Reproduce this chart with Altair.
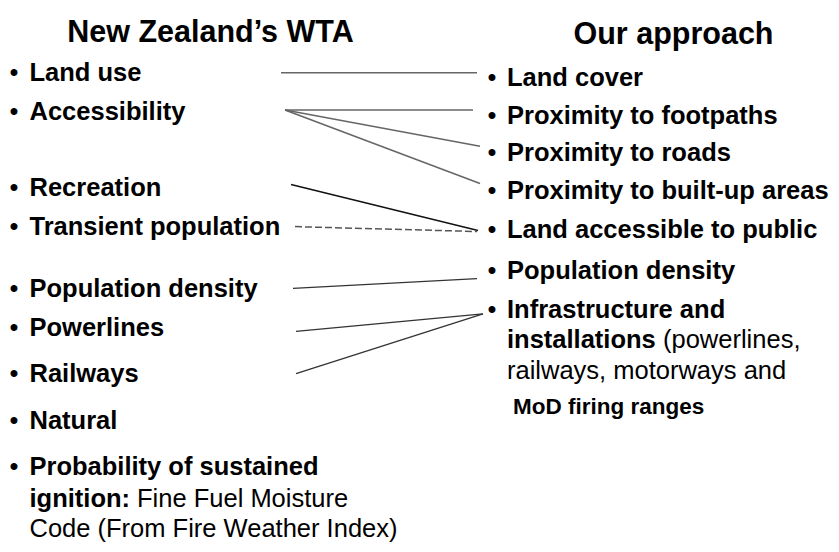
import altair as alt
import pandas as pd

FONT = "Liberation Sans"

# ---- text content ----
titles = ["New Zealand’s WTA", "Our approach"]
title_x = [210.5, 673.5]
title_y = [42, 45]

left_items = ["Land use", "Accessibility", "Recreation", "Transient population",
              "Population density", "Powerlines", "Railways", "Natural",
              "Probability of sustained"]
left_rows = [82, 122, 200, 240, 303, 343, 390, 438, 485]

left_extra_bold = ["ignition:"]
left_extra_bold_rows = [517]
left_extra_regular = ["Fine Fuel Moisture", "Code (From Fire Weather Index)"]
left_extra_regular_x = [137, 29.5]
left_extra_regular_rows = [517, 548]

right_items = ["Land cover", "Proximity to footpaths", "Proximity to roads",
               "Proximity to built-up areas", "Land accessible to public",
               "Population density", "Infrastructure and", "installations"]
right_rows = [87, 126, 164, 203, 243, 284, 324, 355]
right_bullet_rows = right_rows[:7]
right_regular = ["(powerlines,", "railways, motorways and"]
right_regular_x = [663, 507]
right_regular_rows = [355, 387]
right_small = ["MoD firing ranges"]
right_small_rows = [422]

# ---- connector lines (from left item to right item) ----
line_x1 = [281, 285, 285, 285, 291, 295, 293, 296, 296]
line_y1 = [74, 112, 112, 112, 188, 231, 294, 338, 381]
line_x2 = [477, 473, 480, 480, 478, 477, 477, 483, 483]
line_y2 = [74, 112, 149, 187, 235, 236, 284, 320, 320]
line_kind = ["gray", "gray", "gray", "gray", "black", "dashed", "dark", "dark", "dark"]

# ---- build tables ----
texts = []
for t, x, y in zip(titles, title_x, title_y):
    texts.append(dict(text=t, x=x, y=y, kind="title"))
for t, y in zip(left_items, left_rows):
    texts.append(dict(text=t, x=29.5, y=y, kind="bold"))
    texts.append(dict(text="•", x=14, y=y, kind="bullet"))
for t, y in zip(left_extra_bold, left_extra_bold_rows):
    texts.append(dict(text=t, x=29.5, y=y, kind="bold"))
for t, x, y in zip(left_extra_regular, left_extra_regular_x, left_extra_regular_rows):
    texts.append(dict(text=t, x=x, y=y, kind="regular"))
for t, y in zip(right_items, right_rows):
    texts.append(dict(text=t, x=507, y=y, kind="bold"))
for y in right_bullet_rows:
    texts.append(dict(text="•", x=492, y=y, kind="bullet"))
for t, x, y in zip(right_regular, right_regular_x, right_regular_rows):
    texts.append(dict(text=t, x=x, y=y, kind="regular"))
for t, y in zip(right_small, right_small_rows):
    texts.append(dict(text=t, x=513, y=y, kind="small"))
tdf = pd.DataFrame(texts)

ldf = pd.DataFrame(dict(x1=line_x1, y1=line_y1, x2=line_x2, y2=line_y2, kind=line_kind))

# page has an 8px margin; the y axis is squeezed slightly so the last line fits
xs = alt.Scale(domain=[8, 831], range=[0, 823], nice=False, zero=False)
ys = alt.Scale(domain=[18, 553], range=[10, 534], nice=False, zero=False)

def text_layer(kind, size, weight, align):
    return alt.Chart(tdf).transform_filter(alt.datum.kind == kind).mark_text(
        font=FONT, fontSize=size, fontWeight=weight, align=align,
        baseline="alphabetic", color="#000000"
    ).encode(
        x=alt.X("x:Q", scale=xs, axis=None),
        y=alt.Y("y:Q", scale=ys, axis=None),
        text="text:N",
    )

def line_layer(kind, color, width, dash=None):
    kw = dict(color=color, strokeWidth=width)
    if dash:
        kw["strokeDash"] = dash
    return alt.Chart(ldf).transform_filter(alt.datum.kind == kind).mark_rule(**kw).encode(
        x=alt.X("x1:Q", scale=xs, axis=None),
        y=alt.Y("y1:Q", scale=ys, axis=None),
        x2="x2:Q",
        y2="y2:Q",
    )

chart = alt.layer(
    line_layer("gray", "#666666", 1.5),
    line_layer("black", "#111111", 1.4),
    line_layer("dashed", "#555555", 1.5, [7, 3]),
    line_layer("dark", "#333333", 1.3),
    text_layer("title", 30.5, "bold", "center"),
    text_layer("bold", 25.5, "bold", "left"),
    text_layer("bullet", 25.5, "normal", "center"),
    text_layer("regular", 25.5, "normal", "left"),
    text_layer("small", 22.5, "bold", "left"),
).properties(
    width=823, height=536,
    autosize=alt.AutoSizeParams(type="none"),
    padding=0,
    background="#ffffff",
).configure_view(stroke=None, strokeWidth=0)

chart.save("out.html", embed_options={"renderer": "svg", "actions": False})
